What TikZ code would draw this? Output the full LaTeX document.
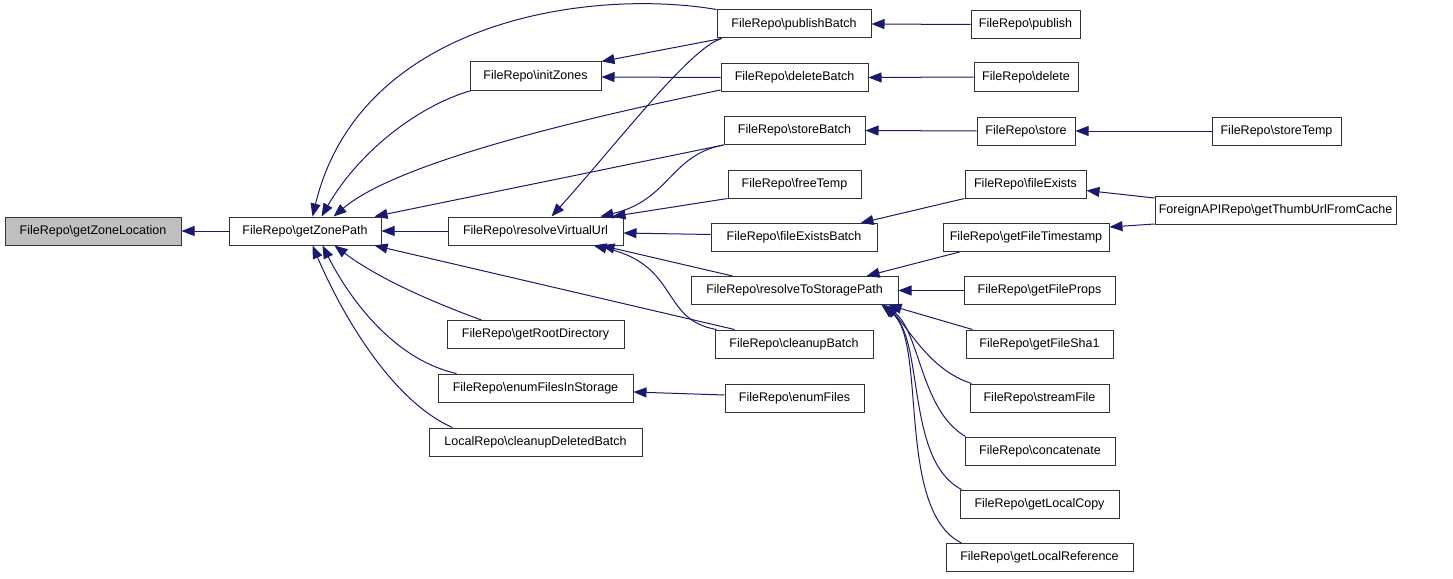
\documentclass[tikz,border=0pt]{standalone}
\usepackage{fontspec}
\setmainfont{Liberation Sans}
\usetikzlibrary{arrows.meta,calc}
\definecolor{edgecol}{HTML}{191970}
\newcommand{\frp}[1]{FileRepo\textbackslash #1}
\begin{document}
\begin{tikzpicture}[x=1pt,y=-1pt,
  box/.style={draw=black!80, line width=1pt, fill=white, minimum height=28pt, inner sep=0pt, font=\fontsize{12.5}{14}\selectfont},
  edge/.style={draw=edgecol, line width=1pt, -{Triangle[length=13pt,width=10pt]}}]
\useasboundingbox (0,0) rectangle (1453,578);
% nodes
\node[box, fill=black!25, minimum width=176pt] (gzl) at (93,231) {\frp{getZoneLocation}};
\node[box, minimum width=152pt] (gzp) at (305,231) {\frp{getZonePath}};
\node[box, minimum width=131pt] (iz) at (535.5,76) {\frp{initZones}};
\node[box, minimum width=175pt] (rvu) at (535.5,231) {\frp{resolveVirtualUrl}};
\node[box, minimum width=177pt] (grd) at (535.5,334.5) {\frp{getRootDirectory}};
\node[box, minimum width=195pt] (efis) at (535.5,388) {\frp{enumFilesInStorage}};
\node[box, minimum width=213pt] (cdb) at (535.5,442) {LocalRepo\textbackslash cleanupDeletedBatch};
\node[box, minimum width=154pt] (pb) at (794,24) {\frp{publishBatch}};
\node[box, minimum width=147pt] (db) at (794.5,77.5) {\frp{deleteBatch}};
\node[box, minimum width=141pt] (sb) at (794.5,130.5) {\frp{storeBatch}};
\node[box, minimum width=133pt] (ft) at (794.5,184) {\frp{freeTemp}};
\node[box, minimum width=166pt] (feb) at (794,237.5) {\frp{fileExistsBatch}};
\node[box, minimum width=207pt] (rtsp) at (794.5,290.5) {\frp{resolveToStoragePath}};
\node[box, minimum width=158pt] (cb) at (794,344) {\frp{cleanupBatch}};
\node[box, minimum width=139pt] (ef) at (794.5,398) {\frp{enumFiles}};
\node[box, minimum width=109pt] (pub) at (1025.5,24.5) {\frp{publish}};
\node[box, minimum width=104pt] (del) at (1026,77) {\frp{delete}};
\node[box, minimum width=98pt] (st) at (1026,131) {\frp{store}};
\node[box, minimum width=121pt] (fe) at (1025.5,184) {\frp{fileExists}};
\node[box, minimum width=166pt] (gft) at (1026,237.5) {\frp{getFileTimestamp}};
\node[box, minimum width=151pt] (gfp) at (1039.5,290.5) {\frp{getFileProps}};
\node[box, minimum width=147pt] (gfs) at (1039.5,344) {\frp{getFileSha1}};
\node[box, minimum width=139pt] (sf) at (1039.5,398) {\frp{streamFile}};
\node[box, minimum width=150pt] (cat) at (1040,451) {\frp{concatenate}};
\node[box, minimum width=159pt] (glc) at (1039.5,504) {\frp{getLocalCopy}};
\node[box, minimum width=187pt] (glr) at (1039.5,557.5) {\frp{getLocalReference}};
\node[box, minimum width=129pt] (stt) at (1276.5,131) {\frp{storeTemp}};
\node[box, minimum width=241pt] (gtu) at (1275.5,210.5) {ForeignAPIRepo\textbackslash getThumbUrlFromCache};
% edges into getZonePath
\draw[edge] (gzp.west) -- (gzl.east);
\draw[edge] (pb.north west) .. controls (590,-12) and (360,20) .. ($(gzp.north west)+(84,0)$);
\draw[edge] ($(iz.south west)+(2,0)$) .. controls (420,105) and (360,150) .. ($(gzp.north west)+(93,0)$);
\draw[edge] ($(db.south west)+(0,-2)$) .. controls (600,115) and (400,160) .. ($(gzp.north west)+(105,0)$);
\draw[edge] (sb.south west) -- ($(gzp.north west)+(146,0)$);
\draw[edge] (rvu.west) -- (gzp.east);
\draw[edge] ($(cb.north west)+(20,0)$) -- ($(gzp.south west)+(146,0)$);
\draw[edge] ($(grd.north west)+(35,0)$) .. controls (440,305) and (380,280) .. ($(gzp.south west)+(106,0)$);
\draw[edge] ($(efis.north west)+(19,0)$) .. controls (395,360) and (350,300) .. ($(gzp.south west)+(94,0)$);
\draw[edge] ($(cdb.north west)+(24,0)$) .. controls (390,400) and (340,310) .. ($(gzp.south west)+(84,0)$);
% into initZones
\draw[edge] ($(pb.south west)+(5,0)$) -- (iz.north east);
\draw[edge] (db.west) -- ($(iz.east)+(0,1)$);
% into resolveVirtualUrl
\draw[edge] ($(pb.south west)+(5,0)$) .. controls (690,48) and (620,140) .. ($(rvu.north west)+(104,0)$);
\draw[edge] (sb.south west) .. controls (670,155) and (670,200) .. ($(rvu.north east)+(-23,0)$);
\draw[edge] (ft.south west) -- ($(rvu.north east)+(-11,0)$);
\draw[edge] ($(feb.west)+(0,-3)$) -- ($(rvu.east)+(0,2)$);
\draw[edge] ($(rtsp.north west)+(42,0)$) -- ($(rvu.south east)+(-22,0)$);
\draw[edge] ($(cb.north west)+(2,0)$) .. controls (660,320) and (680,265) .. ($(rvu.south east)+(-30,0)$);
% column 3 -> column 2
\draw[edge] (pub.west) -- (pb.east);
\draw[edge] (del.west) -- (db.east);
\draw[edge] (st.west) -- (sb.east);
\draw[edge] (stt.west) -- (st.east);
\draw[edge] (fe.south west) -- ($(feb.north east)+(-17,0)$);
\draw[edge] ($(gtu.north west)+(0,2)$) -- ($(fe.south east)+(0,-8)$);
\draw[edge] ($(gtu.south west)+(0,-1)$) -- ($(gft.north east)+(0,4)$);
\draw[edge] ($(gft.south west)+(17,0)$) -- ($(rtsp.north east)+(-32,0)$);
\draw[edge] (gfp.west) -- (rtsp.east);
\draw[edge] ($(gfs.north west)+(7,0)$) -- ($(rtsp.south east)+(-10,0)$);
\draw[edge] ($(sf.north west)+(2,0)$) .. controls (930,370) and (910,330) .. ($(rtsp.south east)+(-13,0)$);
\draw[edge] ($(cat.north west)+(1,0)$) .. controls (920,410) and (920,330) .. ($(rtsp.south east)+(-15,0)$);
\draw[edge] ($(glc.north west)+(2,0)$) .. controls (905,460) and (925,340) .. ($(rtsp.south east)+(-16,0)$);
\draw[edge] ($(glr.north west)+(16,0)$) .. controls (895,510) and (928,340) .. ($(rtsp.south east)+(-17,0)$);
\draw[edge] ($(ef.west)+(0,-3)$) -- ($(efis.east)+(0,4)$);
\end{tikzpicture}
\end{document}
